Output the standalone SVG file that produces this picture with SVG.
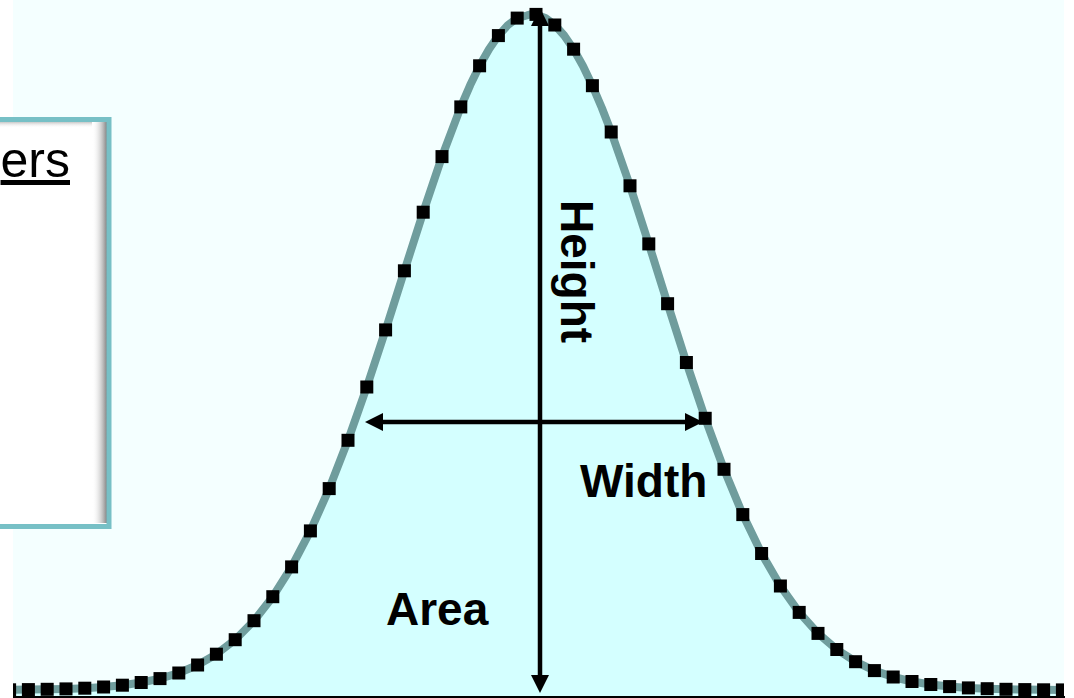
<svg xmlns="http://www.w3.org/2000/svg" width="1074" height="698" viewBox="0 0 1074 698">
<style>
.lbl{font-family:"Liberation Sans",Arial,sans-serif;font-weight:bold;font-size:46px;fill:#000}
.arrow{stroke:#000;stroke-width:4.5;fill:none;marker-start:url(#ah);marker-end:url(#ah)}
</style>
<defs>
<clipPath id="plot"><rect x="13" y="0" width="1051" height="697"/></clipPath>
<marker id="sq" markerUnits="userSpaceOnUse" markerWidth="13" markerHeight="13" refX="6.5" refY="6.5" orient="0" overflow="visible"><rect width="13" height="13" fill="#000"/></marker>
<marker id="ah" markerUnits="userSpaceOnUse" markerWidth="18" markerHeight="18" refX="10" refY="9" orient="auto-start-reverse" overflow="visible"><path d="M0,0 L18,9 L0,18 Z" fill="#000"/></marker>
<linearGradient id="shR" x1="0" y1="0" x2="1" y2="0"><stop offset="0" stop-color="#fff" stop-opacity="0"/><stop offset="1" stop-color="#808080"/></linearGradient>
<linearGradient id="shT" x1="0" y1="0" x2="0" y2="1"><stop offset="0" stop-color="#c8c8c8"/><stop offset="1" stop-color="#fff" stop-opacity="0"/></linearGradient>
</defs>
<rect x="0" y="0" width="1074" height="698" fill="#fff"/>
<g id="plot-area" clip-path="url(#plot)">
<rect x="13" y="0" width="1051" height="697" fill="#F4FFFF"/>
<path id="area-fill" fill="#D4FFFF" d="M9.6,697 L9.6,689.8 28.4,689.6 47.2,689.3 66,688.9 84.8,688.2 103.6,687 122.4,685.2 141.2,682.5 160,678.6 178.8,673 197.6,665 216.4,654.2 235.2,639.7 254,620.7 272.8,596.7 291.6,566.9 310.4,530.9 329.2,488.6 348,440.3 366.8,387 385.6,329.9 404.4,270.8 423.2,212.2 442,156.6 460.8,106.9 470.2,85.1 479.6,65.8 489,49.2 498.4,35.6 507.8,25.1 517.2,18.1 526.6,15.5 531.5,14 536,14.4 545.4,17.9 554.8,25 564.2,35.5 573.6,49.2 583,66 592.4,85.7 601.8,107.8 611.2,132 630,185.8 648.8,243.9 667.6,303.7 686.4,362.5 705.2,418.3 724,469.3 742.8,514.6 761.6,553.5 780.4,586 799.2,612.4 818,633.4 836.8,649.5 855.6,661.7 874.4,670.6 893.2,677 912,681.5 930.8,684.5 949.6,686.6 968.4,687.9 987.2,688.7 1006,689.3 1024.8,689.6 1043.6,689.8 1062.4,689.9 1070,690 1070,697 Z"/>
<polyline id="curve" fill="none" stroke="#6F9D9D" stroke-width="8" stroke-linejoin="round" points="9.6,689.8 28.4,689.6 47.2,689.3 66,688.9 84.8,688.2 103.6,687 122.4,685.2 141.2,682.5 160,678.6 178.8,673 197.6,665 216.4,654.2 235.2,639.7 254,620.7 272.8,596.7 291.6,566.9 310.4,530.9 329.2,488.6 348,440.3 366.8,387 385.6,329.9 404.4,270.8 423.2,212.2 442,156.6 460.8,106.9 470.2,85.1 479.6,65.8 489,49.2 498.4,35.6 507.8,25.1 517.2,18.1 526.6,15.5 531.5,14 536,14.4 545.4,17.9 554.8,25 564.2,35.5 573.6,49.2 583,66 592.4,85.7 601.8,107.8 611.2,132 630,185.8 648.8,243.9 667.6,303.7 686.4,362.5 705.2,418.3 724,469.3 742.8,514.6 761.6,553.5 780.4,586 799.2,612.4 818,633.4 836.8,649.5 855.6,661.7 874.4,670.6 893.2,677 912,681.5 930.8,684.5 949.6,686.6 968.4,687.9 987.2,688.7 1006,689.3 1024.8,689.6 1043.6,689.8 1062.4,689.9"/>
<polyline id="data-points" fill="none" stroke="none" marker-start="url(#sq)" marker-mid="url(#sq)" marker-end="url(#sq)" points="9.6,689.8 28.4,689.6 47.2,689.3 66,688.9 84.8,688.2 103.6,687 122.4,685.2 141.2,682.5 160,678.6 178.8,673 197.6,665 216.4,654.2 235.2,639.7 254,620.7 272.8,596.7 291.6,566.9 310.4,530.9 329.2,488.6 348,440.3 366.8,387 385.6,329.9 404.4,270.8 423.2,212.2 442,156.6 460.8,106.9 479.6,65.8 498.4,35.6 517.2,18.1 536,14.4 554.8,25 573.6,49.2 592.4,85.7 611.2,132 630,185.8 648.8,243.9 667.6,303.7 686.4,362.5 705.2,418.3 724,469.3 742.8,514.6 761.6,553.5 780.4,586 799.2,612.4 818,633.4 836.8,649.5 855.6,661.7 874.4,670.6 893.2,677 912,681.5 930.8,684.5 949.6,686.6 968.4,687.9 987.2,688.7 1006,689.3 1024.8,689.6 1043.6,689.8 1062.4,689.9"/>
</g>
<line id="baseline" x1="13" y1="697" x2="1065" y2="697" stroke="#000" stroke-width="2"/>
<g id="connectors">
<line id="height-arrow" class="arrow" x1="540" y1="16" x2="540" y2="685"/>
<line id="width-arrow" class="arrow" x1="373" y1="422" x2="695" y2="422"/>
</g>
<g id="label-height"><text class="lbl" transform="translate(561,200) rotate(90)">Height</text></g>
<g id="label-width"><text class="lbl" x="580" y="497">Width</text></g>
<g id="label-area"><text class="lbl" x="386" y="625">Area</text></g>
<g id="parameters-box">
<rect x="-10" y="119" width="119" height="407" fill="#fff"/>
<rect x="92" y="122" width="15" height="401" fill="url(#shR)"/>
<rect x="-8" y="122" width="100" height="6" fill="url(#shT)"/>
<rect x="-10" y="119.5" width="119" height="407" fill="none" stroke="#77C0C6" stroke-width="5"/>
<text x="70" y="177" text-anchor="end" font-family="'Liberation Sans',Arial,sans-serif" font-size="50" text-decoration="underline" fill="#000">ers</text>
</g>
</svg>
